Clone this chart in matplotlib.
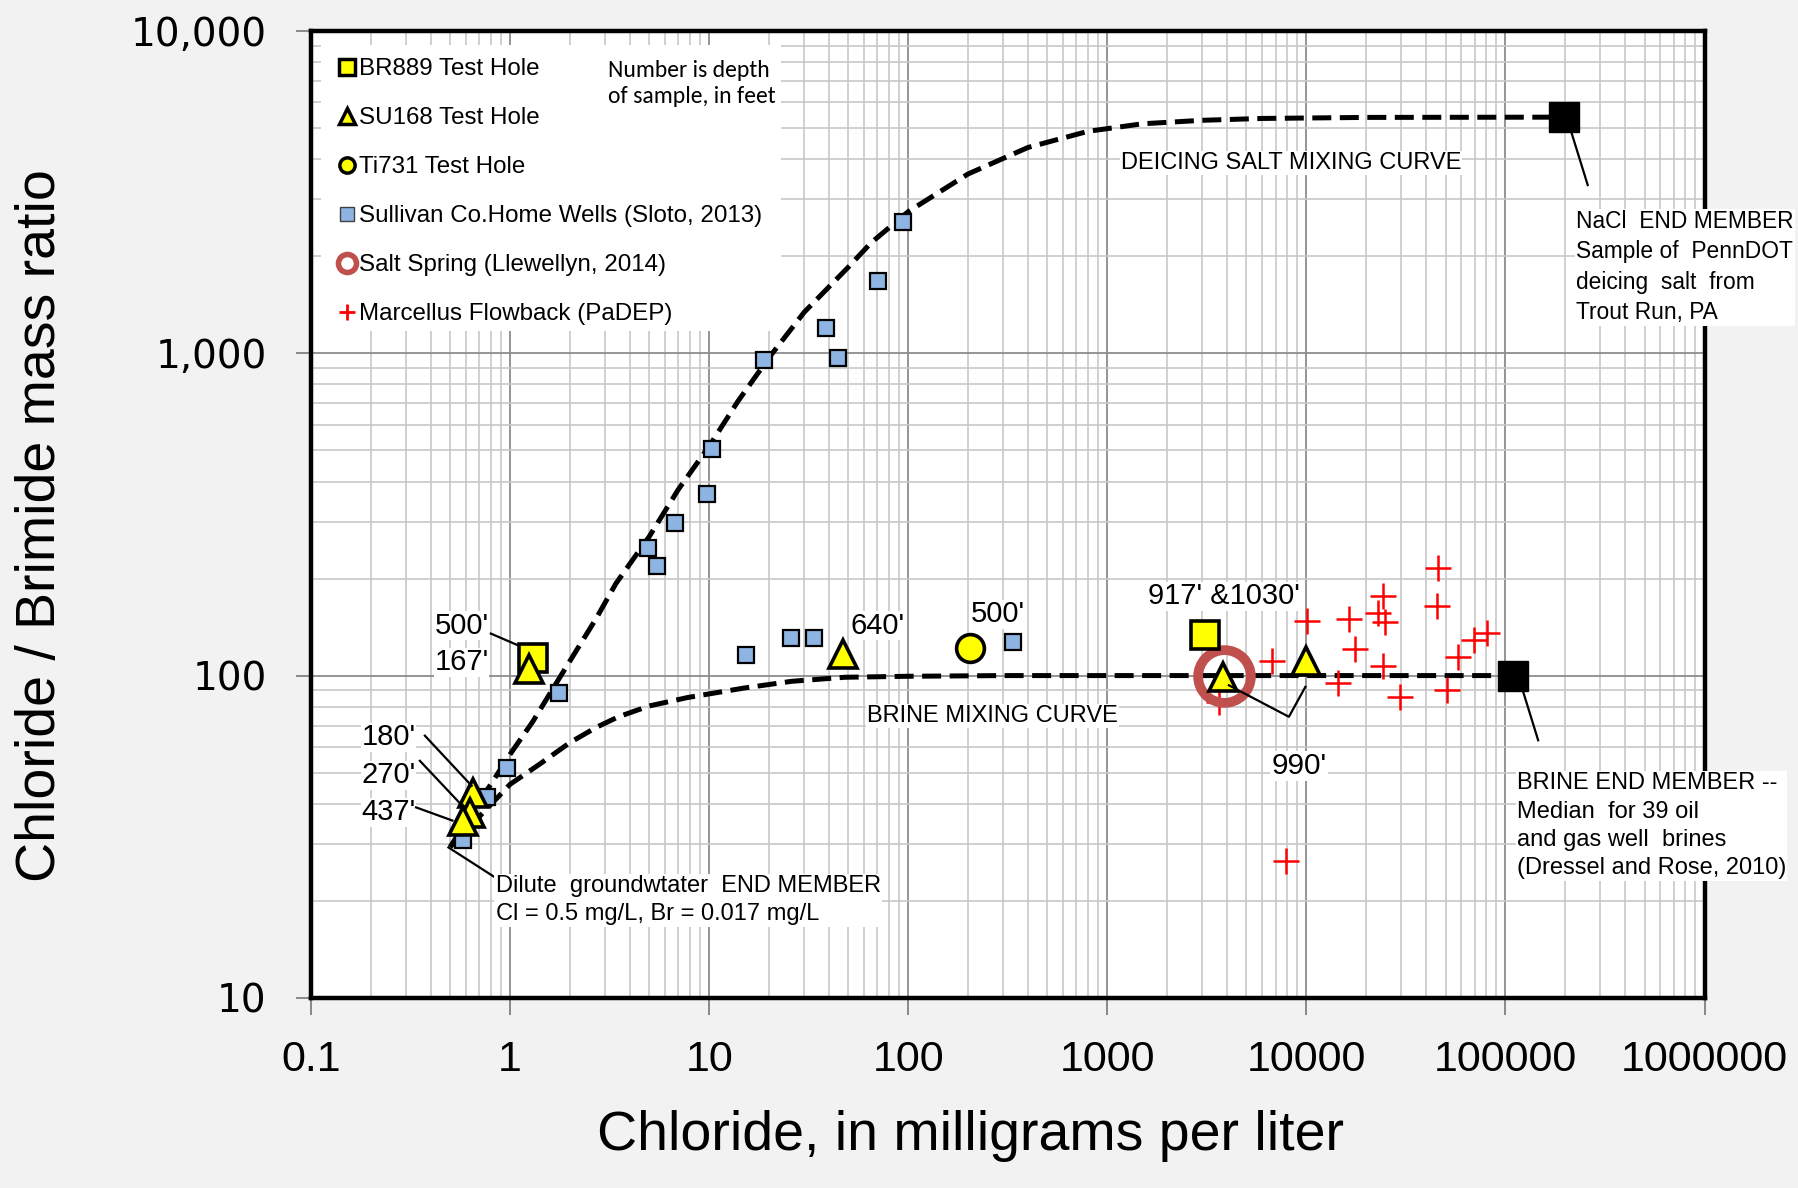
import numpy as np
import matplotlib.pyplot as plt
from matplotlib.lines import Line2D
from matplotlib.patches import Rectangle
from matplotlib.ticker import FixedLocator, FixedFormatter, NullFormatter, LogLocator

SANS = ['Liberation Sans', 'DejaVu Sans']
CALIBRI = ['Carlito', 'Lato', 'DejaVu Sans']

# ---- data (chloride mg/L, Cl/Br mass ratio) ----
br889_cl = [1.3, 3100]
br889_ratio = [113, 134]

su168_cl = [1.25, 0.648, 0.63, 0.58, 47, 3800, 9900]
su168_ratio = [105, 43.2, 37.5, 35.5, 117, 99, 111]

ti731_cl = [205]
ti731_ratio = [122]

sullivan_cl = [93.6, 70.6, 38.5, 44.4, 18.9, 10.3, 9.7, 6.73, 4.94, 5.44,
               1.77, 0.968, 0.763, 0.582, 15.3, 25.7, 33.8, 336]
sullivan_ratio = [2550, 1670, 1196, 965, 955, 504, 366, 298, 248, 219,
                  88, 51.6, 42.1, 30.9, 116, 131, 131, 127]

spring_cl = [3840]
spring_ratio = [100]

marcellus_cl = [3640, 6740, 10100, 14400, 16400, 17500, 24200, 22900, 24700,
                24200, 29600, 45800, 45100, 50800, 58100, 69200, 80700, 7890]
marcellus_ratio = [82.7, 111, 148, 95.1, 150, 121, 176, 156, 147,
                   107, 86.1, 215, 164, 90.2, 114, 129, 136, 26.6]

# end members
endm_cl = [197000, 109000]      # NaCl, brine
endm_ratio = [5400, 100]

# mixing curves, points
deice_cl = [0.5, 0.65, 0.8, 1.0, 1.3, 1.8, 2.7, 3.4, 5, 7, 10, 14, 20, 30,
            50, 65, 100, 200, 400, 800, 1500, 3000, 6000, 20000, 197000]
deice_ratio = [29.4, 38, 46, 57, 72, 100, 150, 193, 270, 378, 515, 712, 970,
               1340, 1850, 2200, 2750, 3600, 4350, 4880, 5150, 5280, 5350,
               5390, 5400]
brine_curve_cl = [0.5, 0.7, 1.0, 1.4, 2.0, 2.7, 3.5, 5, 7.8, 15, 26, 48, 100,
                  300, 1000, 109000]
brine_curve_ratio = [29.4, 36.5, 46, 53, 62, 69, 74.5, 80.5, 85.5, 91.5, 96,
                     98.8, 99.5, 100, 100, 100]

xticks = [0.1, 1, 10, 100, 1000, 10000, 100000, 1000000]
xticklabels = ['0.1', '1', '10', '100', '1000', '10000', '100000', '1000000']
yticks = [10, 100, 1000, 10000]
yticklabels = ['10', '100', '1,000', '10,000']

fig = plt.figure(figsize=(17.98, 11.88), dpi=100)
fig.patch.set_facecolor('#f2f2f2')
ax = fig.add_axes([0.173, 0.160, 0.775, 0.814])
ax.set_xscale('log')
ax.set_yscale('log')
ax.set_xlim(0.1, 1e6)
ax.set_ylim(10, 10000)
ax.set_axisbelow(True)

ax.xaxis.set_major_locator(FixedLocator(xticks))
ax.xaxis.set_major_formatter(FixedFormatter(xticklabels))
ax.yaxis.set_major_locator(FixedLocator(yticks))
ax.yaxis.set_major_formatter(FixedFormatter(yticklabels))
ax.xaxis.set_minor_locator(LogLocator(base=10, subs=np.arange(2, 10), numticks=20))
ax.yaxis.set_minor_locator(LogLocator(base=10, subs=np.arange(2, 10), numticks=20))
ax.xaxis.set_minor_formatter(NullFormatter())
ax.yaxis.set_minor_formatter(NullFormatter())
ax.grid(which='major', color='#8c8c8c', lw=1.3)
ax.grid(which='minor', color='#c8c8c8', lw=1.2)
ax.tick_params(which='minor', length=0)
ax.tick_params(which='major', direction='out', color='#808080', width=1.3)
ax.tick_params(axis='x', length=12, pad=18, labelsize=31)
ax.tick_params(axis='y', length=11, pad=21, labelsize=28)
for lbl in ax.get_xticklabels():
    lbl.set_family(SANS)
for lbl in ax.get_yticklabels():
    lbl.set_family('DejaVu Sans')
for sp in ax.spines.values():
    sp.set_linewidth(3.2)
    sp.set_color('black')

ax.set_xlabel('Chloride, in milligrams per liter', fontsize=40, family=SANS)
ax.xaxis.set_label_coords(0.473, -0.143)
ax.xaxis.label.set_va('center')
ax.set_ylabel('Chloride / Brimide mass ratio', fontsize=40, family=SANS)
ax.yaxis.set_label_coords(-0.194, 0.488)
ax.yaxis.label.set_va('center')

# white legend panel
ax.add_patch(Rectangle((0.007, 0.69), 0.33, 0.295, transform=ax.transAxes,
                       fc='white', ec='none', zorder=1))

# mixing curves
dash = dict(ls=(0, (3.8, 1.7)), color='black', lw=3.6, zorder=2)
ax.plot(deice_cl, deice_ratio, **dash)
ax.plot(brine_curve_cl, brine_curve_ratio, **dash)

# points
ax.plot(sullivan_cl, sullivan_ratio, 's', ms=11.5, mfc='#8db4e2', mec='black', mew=1.6, zorder=3)
ax.plot(marcellus_cl, marcellus_ratio, '+', ms=19, mec='red', mew=1.8, zorder=3)
ax.plot(spring_cl, spring_ratio, 'o', ms=38, mfc='none', mec='#c0504d', mew=7, zorder=3)
ax.plot(br889_cl, br889_ratio, 's', ms=20, mfc='yellow', mec='black', mew=2.6, zorder=4)
ax.plot(su168_cl, su168_ratio, '^', ms=20, mfc='yellow', mec='black', mew=2.6, zorder=4)
ax.plot(ti731_cl, ti731_ratio, 'o', ms=20, mfc='yellow', mec='black', mew=2.6, zorder=4)
ax.plot(endm_cl, endm_ratio, 's', ms=21, color='black', zorder=4)

# legend
handles = [
    Line2D([], [], ls='none', marker='s', ms=11, mfc='yellow', mec='black', mew=2.5),
    Line2D([], [], ls='none', marker='^', ms=12, mfc='yellow', mec='black', mew=2.5),
    Line2D([], [], ls='none', marker='o', ms=11, mfc='yellow', mec='black', mew=2.5),
    Line2D([], [], ls='none', marker='s', ms=10, mfc='#8db4e2', mec='#404040', mew=1),
    Line2D([], [], ls='none', marker='o', ms=13, mfc='white', mec='#c0504d', mew=4),
    Line2D([], [], ls='none', marker='+', ms=12, mec='red', mew=2),
]
labels = ['BR889 Test Hole', 'SU168 Test Hole', 'Ti731 Test Hole',
          'Sullivan Co.Home Wells (Sloto, 2013)', 'Salt Spring (Llewellyn, 2014)',
          'Marcellus Flowback (PaDEP)']
leg = ax.legend(handles, labels, loc='upper left', bbox_to_anchor=(0.020, 0.972),
                frameon=False, handlelength=0.7, handletextpad=0.15,
                labelspacing=1.12, borderpad=0, borderaxespad=0,
                prop={'family': SANS, 'size': 17.4})
leg.set_zorder(6)

ax.text(3.1, 6860, 'Number is depth\nof sample, in feet', fontsize=17, family=CALIBRI,
        ha='left', va='center', linespacing=1.3, zorder=5,
        bbox=dict(fc='white', ec='none', pad=0.1))

# depth labels
box = dict(fc='white', ec='none', pad=0.35)
depth_kw = dict(fontsize=21, family=SANS, zorder=5, bbox=box)
ax.text(0.78, 143, "500'", ha='right', va='center', **depth_kw)
ax.text(0.78, 110, "167'", ha='right', va='center', **depth_kw)
ax.text(0.335, 64.3, "180'", ha='right', va='center', **depth_kw)
ax.text(0.335, 49.0, "270'", ha='right', va='center', **depth_kw)
ax.text(0.335, 37.7, "437'", ha='right', va='center', **depth_kw)
ax.text(51.5, 143, "640'", ha='left', va='center', **depth_kw)
ax.text(281, 155, "500'", ha='center', va='center', **depth_kw)
ax.text(3870, 176, "917' &1030'", ha='center', va='center', **depth_kw)
ax.text(9180, 52.4, "990'", ha='center', va='center', fontsize=21.5, family=SANS,
        zorder=5, bbox=dict(fc='white', ec='none', pad=0.8))

# leader lines
lead = dict(color='black', lw=1.6, zorder=5)
ax.plot([0.8, 1.1], [135, 124], **lead)
ax.plot([0.373, 0.641], [65.1, 45.5], **lead)
ax.plot([0.352, 0.574], [54.4, 39.5], **lead)
ax.plot([0.337, 0.513], [39.0, 35.5], **lead)
ax.plot([0.49, 0.845], [29.3, 23.6], **lead)
ax.plot([4080, 8170, 9890], [93.3, 74.5, 92.3], **lead)
ax.plot([215000, 259000], [4820, 3325], **lead)
ax.plot([122000, 146000], [90.2, 63], **lead)

# curve / end member annotations
ann_kw = dict(fontsize=17, family=SANS, zorder=5, linespacing=1.38)
ax.text(8360, 3900, 'DEICING SALT MIXING CURVE', ha='center', va='center',
        bbox=dict(fc='white', ec='none', pad=0.6), **ann_kw)
ax.text(266, 75, 'BRINE MIXING CURVE', ha='center', va='center',
        bbox=dict(fc='white', ec='none', pad=0.6), **ann_kw)
ax.text(0.845, 20.1, 'Dilute  groundwtater  END MEMBER\nCl = 0.5 mg/L, Br = 0.017 mg/L',
        ha='left', va='center', bbox=dict(fc='white', ec='none', pad=0.9), **ann_kw)
ax.text(227000, 1850, 'NaCl  END MEMBER\nSample of  PennDOT\ndeicing  salt  from\nTrout Run, PA',
        ha='left', va='center', fontsize=16.4, family=SANS, zorder=5, linespacing=1.42,
        bbox=dict(fc='white', ec='none', pad=0.8))
ax.text(114000, 34.2, 'BRINE END MEMBER --\nMedian  for 39 oil\nand gas well  brines\n(Dressel and Rose, 2010)',
        ha='left', va='center', bbox=dict(fc='white', ec='none', pad=0.9), **ann_kw)

fig.savefig('out.png', dpi=100, facecolor=fig.get_facecolor())
